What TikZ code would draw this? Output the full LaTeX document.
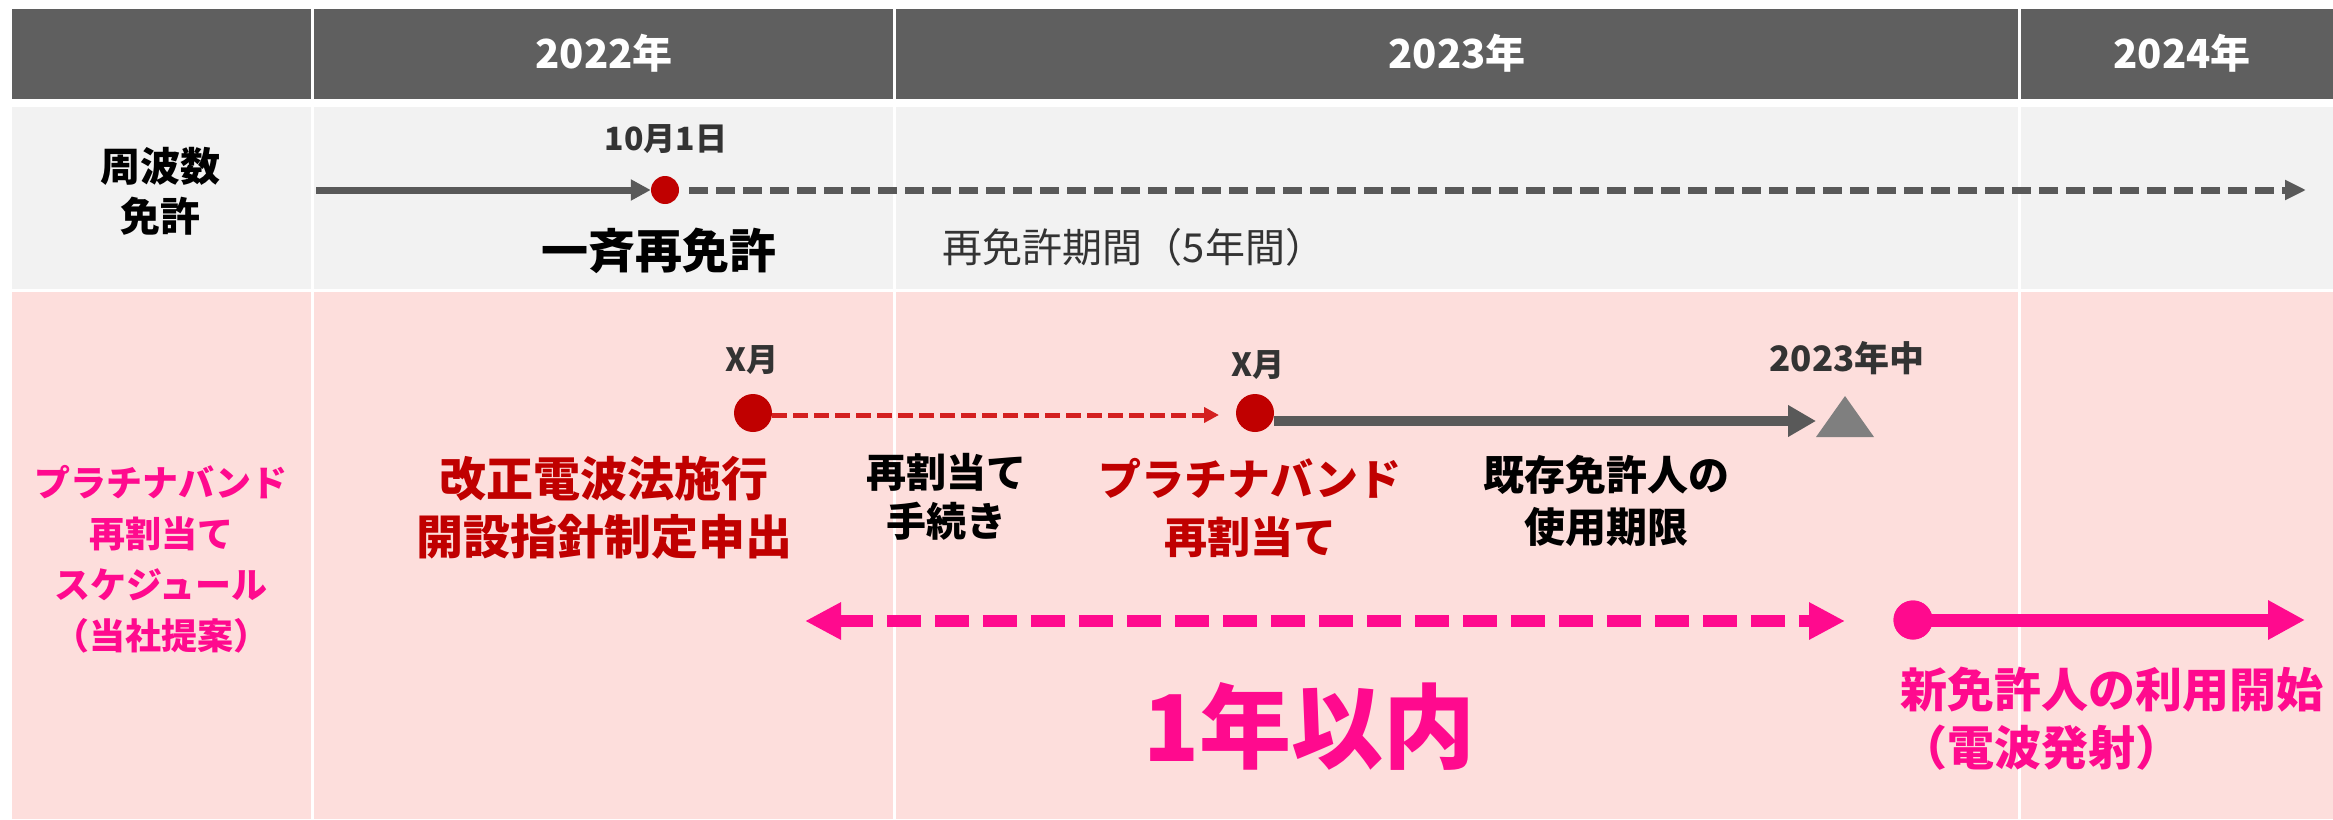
\documentclass[tikz,border=0pt]{standalone}
\usepackage{fontspec}
\setmainfont{Noto Sans CJK JP}[BoldFont={Noto Sans CJK JP Black}]
\usetikzlibrary{arrows.meta}
\definecolor{hdr}{HTML}{5F5F5F}
\definecolor{rowgray}{HTML}{F2F2F2}
\definecolor{rowpink}{HTML}{FDDEDC}
\definecolor{dred}{HTML}{C00000}
\definecolor{lred}{HTML}{D42020}
\definecolor{mag}{HTML}{FF0A8E}
\definecolor{agray}{HTML}{595959}
\definecolor{tgray}{HTML}{7F7F7F}
\definecolor{dtext}{HTML}{333333}
\begin{document}
\begin{tikzpicture}[x=1pt,y=-1pt,
  lbl/.style={inner sep=0pt, align=center},
  hdrtxt/.style={lbl, text=white, font=\bfseries\fontsize{40}{48}\selectfont},
  dot/.style={circle, inner sep=0pt, minimum size=#1},
  divider/.style={white, line width=3pt}
]
\useasboundingbox (0,0) rectangle (2333,819);
\fill[white] (0,0) rectangle (2333,819);
% backgrounds
\fill[hdr] (12,9) rectangle (2333,99);
\fill[rowgray] (12,107) rectangle (2333,289);
\fill[rowpink] (12,292) rectangle (2333,819);
\foreach \xx in {312,894,2019} \draw[divider] (\xx,9) -- (\xx,819);

% header
\node[hdrtxt] (y22) at (604,53) {2022年};
\node[hdrtxt] (y23) at (1457,53) {2023年};
\node[hdrtxt] (y24) at (2182,53) {2024年};

% row 2
\node[lbl, font=\bfseries\fontsize{40}{50}\selectfont] (freq) at (160,191) {周波数\\免許};
\node[lbl, text=dtext, font=\bfseries\fontsize{32}{38}\selectfont] (oct) at (666,139) {10月1日};
\coordinate (s1) at (316,190);
\coordinate (e1) at (2306,190);
\node[dot=28pt, fill=dred] (d1) at (665,190) {};
\draw[agray, line width=7pt, -{Triangle[length=20pt,width=20pt]}] (s1) -- (d1.west);
\draw[agray, line width=7pt, dash pattern=on 19pt off 8pt, -{Triangle[length=21pt,width=19pt]}] ([xshift=10pt]d1.east) -- (e1);
\node[lbl, font=\bfseries\fontsize{47}{56}\selectfont] (ikko) at (659,251) {一斉再免許};
\node[lbl, text=dtext, font=\fontsize{40}{48}\selectfont] (period) at (1134,247) {再免許期間（5年間）};

% row 3
\node[lbl, text=mag, font=\bfseries\fontsize{36}{51}\selectfont] (plan) at (161,559) {プラチナバンド\\再割当て\\スケジュール\\（当社提案）};
\node[lbl, text=dtext, font=\bfseries\fontsize{32}{38}\selectfont] (xm1) at (752,360) {X月};
\node[lbl, text=dtext, font=\bfseries\fontsize{32}{38}\selectfont] (xm2) at (1258,365) {X月};
\node[lbl, text=dtext, font=\bfseries\fontsize{35}{42}\selectfont] (mid) at (1847,358) {2023年中};

\node[dot=38pt, fill=dred] (c1) at (753,413) {};
\node[dot=38pt, fill=dred] (c2) at (1255,413) {};
\coordinate (r2) at (1219,415);
\draw[lred, line width=5pt, dash pattern=on 15pt off 6pt, -{Triangle[length=15pt,width=15pt]}] (c1.east |- r2) -- (r2);
\coordinate (g1) at (1816,421);
\draw[agray, line width=10pt, -{Triangle[length=28pt,width=30pt]}] (c2.east |- g1) -- (g1);
\fill[tgray] (1816,437) -- (1845,396) -- (1874,437) -- cycle;

\node[lbl, text=dred, font=\bfseries\fontsize{47}{58}\selectfont] (law) at (604,508) {改正電波法施行\\開設指針制定申出};
\node[lbl, font=\bfseries\fontsize{40}{49}\selectfont] (proc) at (946,497) {再割当て\\手続き};
\node[lbl, text=dred, font=\bfseries\fontsize{43}{58}\selectfont] (plat) at (1250,508) {プラチナバンド\\再割当て};
\node[lbl, font=\bfseries\fontsize{41}{52}\selectfont] (exist) at (1606,501) {既存免許人の\\使用期限};

% one-year span
\coordinate (m1) at (805,621);
\coordinate (m2) at (1845,621);
\draw[mag, line width=12pt, dash pattern=on 34pt off 14pt, {Triangle[length=36pt,width=35pt]}-{Triangle[length=36pt,width=35pt]}] (m1) -- (m2);
\node[lbl, text=mag, font=\bfseries\fontsize{92}{100}\selectfont] (year) at (1309,726) {1年以内};

% new licensee
\node[dot=39pt, fill=mag] (c3) at (1913,620) {};
\coordinate (n2) at (2305,620);
\draw[mag, line width=13pt, -{Triangle[length=37pt,width=37pt]}] (c3.center) -- (n2);
\node[dot=39pt, fill=mag] at (c3) {};
\node[lbl, align=left, anchor=west, text=mag, font=\bfseries\fontsize{47}{58}\selectfont] (newl) at (1900,719) {新免許人の利用開始\\（電波発射）};
\end{tikzpicture}
\end{document}
